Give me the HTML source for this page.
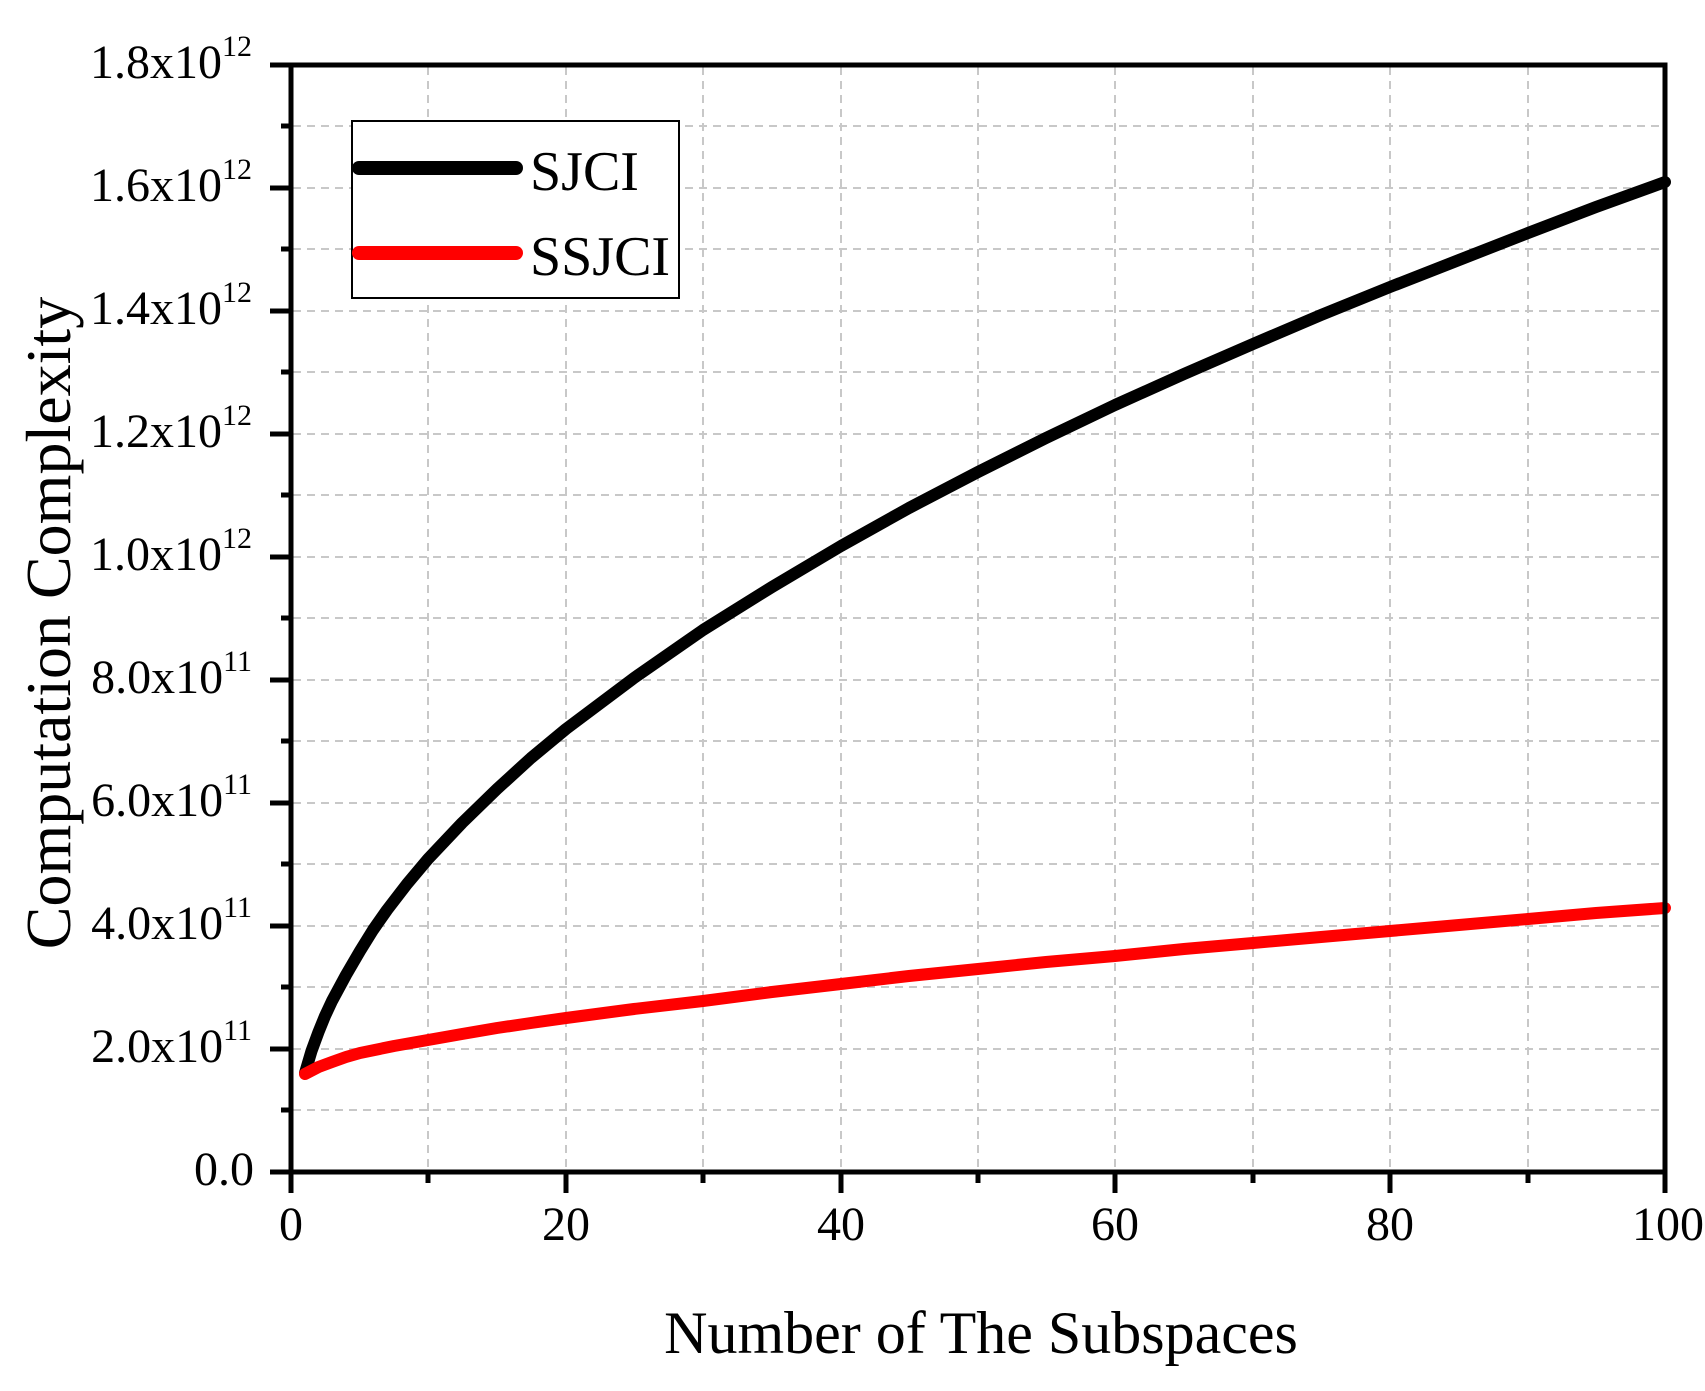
<!DOCTYPE html>
<html><head><meta charset="utf-8"><style>
html,body{margin:0;padding:0;background:#fff;}
svg{display:block;}
text{font-family:"Liberation Serif",serif;fill:#000;}
</style></head><body>
<svg width="1705" height="1391" viewBox="0 0 1705 1391" xmlns="http://www.w3.org/2000/svg">
<g stroke="#c8c8c8" stroke-width="2" stroke-dasharray="8,6" fill="none">
<line x1="428" y1="67" x2="428" y2="1170"/><line x1="566" y1="67" x2="566" y2="1170"/>
<line x1="703" y1="67" x2="703" y2="1170"/><line x1="841" y1="67" x2="841" y2="1170"/>
<line x1="978" y1="67" x2="978" y2="1170"/><line x1="1115" y1="67" x2="1115" y2="1170"/>
<line x1="1253" y1="67" x2="1253" y2="1170"/><line x1="1390" y1="67" x2="1390" y2="1170"/>
<line x1="1528" y1="67" x2="1528" y2="1170"/>
<line x1="293" y1="126" x2="1663" y2="126"/><line x1="293" y1="188" x2="1663" y2="188"/>
<line x1="293" y1="249" x2="1663" y2="249"/><line x1="293" y1="311" x2="1663" y2="311"/>
<line x1="293" y1="372" x2="1663" y2="372"/><line x1="293" y1="434" x2="1663" y2="434"/>
<line x1="293" y1="495" x2="1663" y2="495"/><line x1="293" y1="557" x2="1663" y2="557"/>
<line x1="293" y1="618" x2="1663" y2="618"/><line x1="293" y1="680" x2="1663" y2="680"/>
<line x1="293" y1="741" x2="1663" y2="741"/><line x1="293" y1="803" x2="1663" y2="803"/>
<line x1="293" y1="864" x2="1663" y2="864"/><line x1="293" y1="926" x2="1663" y2="926"/>
<line x1="293" y1="987" x2="1663" y2="987"/><line x1="293" y1="1049" x2="1663" y2="1049"/>
<line x1="293" y1="1110" x2="1663" y2="1110"/>
</g>
<g fill="none" stroke-linejoin="round" stroke-linecap="round" stroke-width="12">
<polyline stroke="#000" points="305,1073 311.5,1051 318.5,1032 325,1016 332,1001 346,975 360,951 373,930 387,910 407,884 428,859 462,823 497,789 531,758 566,729 634,678 703,630 772,587 841,546 909,508 978,472 1046,438 1115,405 1184,374 1253,344 1321,315 1390,287 1459,260 1528,233 1596,207 1665,182"/>
<polyline stroke="#ff0000" points="305,1074 318.5,1067 332,1062 346,1057 360,1053 394,1046 428,1040 462,1034 497,1028 531,1023 566,1018 634,1009 703,1001 772,992 841,984 909,976 978,969 1046,962 1115,956 1184,949 1253,943 1321,937 1390,931 1459,925 1528,919 1596,913 1665,908"/>
</g>
<g stroke="#000" stroke-width="5" fill="none">
<rect x="291" y="65" width="1374" height="1107"/>
</g>
<g stroke="#000" stroke-width="5">
<line x1="270" y1="65" x2="291" y2="65"/><line x1="270" y1="188" x2="291" y2="188"/>
<line x1="270" y1="311" x2="291" y2="311"/><line x1="270" y1="434" x2="291" y2="434"/>
<line x1="270" y1="557" x2="291" y2="557"/><line x1="270" y1="680" x2="291" y2="680"/>
<line x1="270" y1="803" x2="291" y2="803"/><line x1="270" y1="926" x2="291" y2="926"/>
<line x1="270" y1="1049" x2="291" y2="1049"/><line x1="270" y1="1172" x2="291" y2="1172"/>
<line x1="281" y1="126" x2="291" y2="126"/><line x1="281" y1="249" x2="291" y2="249"/>
<line x1="281" y1="372" x2="291" y2="372"/><line x1="281" y1="495" x2="291" y2="495"/>
<line x1="281" y1="618" x2="291" y2="618"/><line x1="281" y1="741" x2="291" y2="741"/>
<line x1="281" y1="864" x2="291" y2="864"/><line x1="281" y1="987" x2="291" y2="987"/>
<line x1="281" y1="1110" x2="291" y2="1110"/>
<line x1="291" y1="1172" x2="291" y2="1193"/><line x1="566" y1="1172" x2="566" y2="1193"/>
<line x1="841" y1="1172" x2="841" y2="1193"/><line x1="1115" y1="1172" x2="1115" y2="1193"/>
<line x1="1390" y1="1172" x2="1390" y2="1193"/><line x1="1665" y1="1172" x2="1665" y2="1193"/>
<line x1="428" y1="1172" x2="428" y2="1183"/><line x1="703" y1="1172" x2="703" y2="1183"/>
<line x1="978" y1="1172" x2="978" y2="1183"/><line x1="1253" y1="1172" x2="1253" y2="1183"/>
<line x1="1528" y1="1172" x2="1528" y2="1183"/>
</g>
<g font-size="48" text-anchor="end">
<text x="252" y="78">1.8x10<tspan font-size="30" dy="-22">12</tspan></text>
<text x="252" y="201">1.6x10<tspan font-size="30" dy="-22">12</tspan></text>
<text x="252" y="324">1.4x10<tspan font-size="30" dy="-22">12</tspan></text>
<text x="252" y="447">1.2x10<tspan font-size="30" dy="-22">12</tspan></text>
<text x="252" y="570">1.0x10<tspan font-size="30" dy="-22">12</tspan></text>
<text x="252" y="693">8.0x10<tspan font-size="30" dy="-22">11</tspan></text>
<text x="252" y="816">6.0x10<tspan font-size="30" dy="-22">11</tspan></text>
<text x="252" y="939">4.0x10<tspan font-size="30" dy="-22">11</tspan></text>
<text x="252" y="1062">2.0x10<tspan font-size="30" dy="-22">11</tspan></text>
<text x="254" y="1185">0.0</text>
</g>
<g font-size="48" text-anchor="middle">
<text x="291" y="1240">0</text><text x="566" y="1240">20</text><text x="841" y="1240">40</text>
<text x="1115" y="1240">60</text><text x="1390" y="1240">80</text><text x="1668" y="1240">100</text>
</g>
<text x="981" y="1353" font-size="60" text-anchor="middle">Number of The Subspaces</text>
<text transform="translate(70,623) rotate(-90)" font-size="64" text-anchor="middle">Computation Complexity</text>
<rect x="352" y="121" width="327" height="177" fill="#fff" stroke="#000" stroke-width="2"/>
<line x1="359" y1="168" x2="516" y2="168" stroke="#000" stroke-width="14" stroke-linecap="round"/>
<line x1="359" y1="253" x2="516" y2="253" stroke="#ff0000" stroke-width="14" stroke-linecap="round"/>
<text x="530" y="190" font-size="56">SJCI</text>
<text x="530" y="275" font-size="56">SSJCI</text>
</svg>
</body></html>
